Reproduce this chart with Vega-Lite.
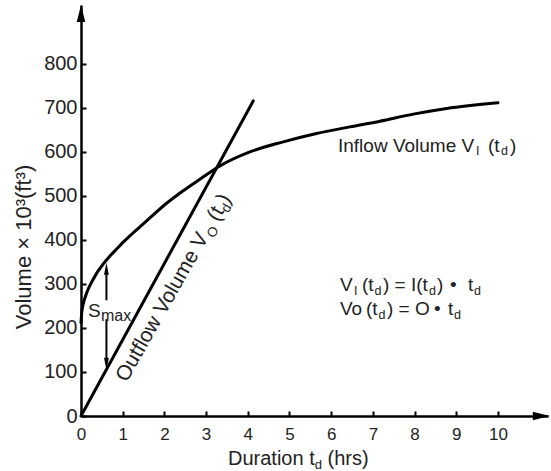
{
  "$schema": "https://vega.github.io/schema/vega-lite/v6.json",
  "width": 467,
  "height": 411,
  "autosize": {"type": "none"},
  "padding": {"left": 81, "top": 5, "right": 3, "bottom": 55},
  "config": {"view": {"stroke": null}},
  "datasets": {
    "inflow": [
      {"t": 0, "v": 212}, {"t": 0.02, "v": 237}, {"t": 0.05, "v": 253}, {"t": 0.1, "v": 270},
      {"t": 0.2, "v": 294}, {"t": 0.3, "v": 312}, {"t": 0.4, "v": 328}, {"t": 0.53, "v": 345},
      {"t": 0.7, "v": 364}, {"t": 0.86, "v": 380}, {"t": 1.0, "v": 394}, {"t": 1.18, "v": 410},
      {"t": 1.5, "v": 437}, {"t": 2.06, "v": 484}, {"t": 2.45, "v": 512},
      {"t": 2.85, "v": 538}, {"t": 3.29, "v": 566}, {"t": 4.05, "v": 600}, {"t": 4.85, "v": 623},
      {"t": 5.65, "v": 642}, {"t": 6.45, "v": 657}, {"t": 7.17, "v": 670}, {"t": 7.97, "v": 686},
      {"t": 8.77, "v": 699}, {"t": 10.0, "v": 712}
    ],
    "outflow": [{"t": 0, "v": 0}, {"t": 4.13, "v": 716}],
    "shafts": [{"t": 0.61, "v": 263, "v2": 334}, {"t": 0.61, "v": 220, "v2": 119}],
    "smaxUp": [{"t": 0.61, "v": 334.4}],
    "smaxDown": [{"t": 0.61, "v": 118.6}],
    "yArrow": [{"t": 0, "v": 914.8}],
    "xArrow": [{"t": 11.04, "v": 0}],
    "main": [
      {"t": 6.163, "v": 600, "label": "Inflow Volume V"},
      {"t": 9.76, "v": 600, "label": "(t"},
      {"t": 10.288, "v": 600, "label": ")"},
      {"t": 6.211, "v": 284.1, "label": "V"},
      {"t": 6.739, "v": 284.1, "label": "(t"},
      {"t": 7.242, "v": 284.1, "label": ") = I(t"},
      {"t": 8.537, "v": 284.1, "label": ")"},
      {"t": 8.849, "v": 284.1, "label": "•"},
      {"t": 9.281, "v": 284.1, "label": "t"},
      {"t": 6.211, "v": 229.5, "label": "Vo"},
      {"t": 6.835, "v": 229.5, "label": "(t"},
      {"t": 7.338, "v": 229.5, "label": ") = O"},
      {"t": 8.465, "v": 229.5, "label": "•"},
      {"t": 8.801, "v": 229.5, "label": "t"},
      {"t": 0.168, "v": 226, "label": "S"}
    ],
    "subs": [
      {"t": 9.472, "v": 593.2, "label": "I"},
      {"t": 10.072, "v": 593.2, "label": "d"},
      {"t": 6.547, "v": 275, "label": "I"},
      {"t": 7.038, "v": 275, "label": "d"},
      {"t": 8.345, "v": 275, "label": "d"},
      {"t": 9.424, "v": 275, "label": "d"},
      {"t": 7.134, "v": 220.5, "label": "d"},
      {"t": 8.945, "v": 220.5, "label": "d"}
    ],
    "smax": [{"t": 0.48, "v": 217, "label": "max"}],
    "rot": [
      {"t": 1.098, "v": 75.2, "label": "Outflow Volume V"},
      {"t": 3.285, "v": 440.0, "label": "(t"},
      {"t": 3.525, "v": 480.2, "label": ")"}
    ],
    "rotSub": [
      {"t": 3.187, "v": 402.7, "label": "O"},
      {"t": 3.53, "v": 460.3, "label": "d"}
    ],
    "xTitle": [
      {"t": 3.525, "v": -111.4, "label": "Duration t"},
      {"t": 5.911, "v": -111.4, "label": "(hrs)"}
    ],
    "xTitleSub": [{"t": 5.604, "v": -120.5, "label": "d"}]
  },
  "encoding": {
    "x": {
      "field": "t", "type": "quantitative",
      "scale": {"domain": [0, 11.2], "nice": false, "zero": false},
      "axis": {
        "values": [0, 1, 2, 3, 4, 5, 6, 7, 8, 9, 10], "title": null, "grid": false,
        "domainColor": "black", "domainWidth": 2.5, "tickColor": "black", "tickWidth": 2, "tickSize": -5,
        "labelFont": "Liberation Sans", "labelFontSize": 17, "labelColor": "#222", "labelPadding": 15,
        "labelFlush": false, "labelOverlap": false
      }
    },
    "y": {
      "field": "v", "type": "quantitative",
      "scale": {"domain": [0, 934], "nice": false, "zero": false},
      "axis": {
        "values": [0, 100, 200, 300, 400, 500, 600, 700, 800], "grid": false,
        "domainColor": "black", "domainWidth": 2.5, "tickColor": "black", "tickWidth": 2, "tickSize": -5,
        "labelFont": "Liberation Sans", "labelFontSize": 20, "labelColor": "#222", "labelPadding": 9,
        "labelFlush": false, "labelOverlap": false,
        "title": "Volume × 10³(ft³)", "titleFont": "Liberation Sans", "titleFontSize": 22,
        "titleFontWeight": "normal", "titleColor": "#222", "titleAngle": 270,
        "titleX": -58, "titleY": 241.5, "titleAlign": "center", "titleBaseline": "middle"
      }
    }
  },
  "layer": [
    {"data": {"name": "inflow"}, "mark": {"type": "line", "color": "black", "strokeWidth": 3, "interpolate": "monotone", "strokeCap": "round"}},
    {"data": {"name": "outflow"}, "mark": {"type": "line", "color": "black", "strokeWidth": 3, "strokeCap": "round"}},
    {"data": {"name": "shafts"}, "mark": {"type": "rule", "color": "black", "strokeWidth": 2}, "encoding": {"y2": {"field": "v2"}}},
    {"data": {"name": "smaxUp"}, "mark": {"type": "point", "shape": "M0,-1L0.4,1L-0.4,1Z", "size": 144, "filled": true, "color": "black", "opacity": 1}},
    {"data": {"name": "smaxDown"}, "mark": {"type": "point", "shape": "M0,1L0.4,-1L-0.4,-1Z", "size": 144, "filled": true, "color": "black", "opacity": 1}},
    {"data": {"name": "yArrow"}, "mark": {"type": "point", "shape": "M0,-1L0.5,1L-0.5,1Z", "size": 289, "filled": true, "color": "black", "opacity": 1}},
    {"data": {"name": "xArrow"}, "mark": {"type": "point", "shape": "M1,0L-1,-0.5L-1,0.5Z", "size": 289, "filled": true, "color": "black", "opacity": 1}},
    {"data": {"name": "main"}, "mark": {"type": "text", "align": "left", "baseline": "alphabetic", "font": "Liberation Sans", "fontSize": 19, "color": "#222"}, "encoding": {"text": {"field": "label"}}},
    {"data": {"name": "subs"}, "mark": {"type": "text", "align": "left", "baseline": "alphabetic", "font": "Liberation Sans", "fontSize": 12.5, "color": "#222"}, "encoding": {"text": {"field": "label"}}},
    {"data": {"name": "smax"}, "mark": {"type": "text", "align": "left", "baseline": "alphabetic", "font": "Liberation Sans", "fontSize": 16, "color": "#222"}, "encoding": {"text": {"field": "label"}}},
    {"data": {"name": "rot"}, "mark": {"type": "text", "align": "left", "baseline": "alphabetic", "angle": 299.5, "font": "Liberation Sans", "fontSize": 21, "color": "#222"}, "encoding": {"text": {"field": "label"}}},
    {"data": {"name": "rotSub"}, "mark": {"type": "text", "align": "left", "baseline": "alphabetic", "angle": 299.5, "font": "Liberation Sans", "fontSize": 13.5, "color": "#222"}, "encoding": {"text": {"field": "label"}}},
    {"data": {"name": "xTitle"}, "mark": {"type": "text", "align": "left", "baseline": "alphabetic", "font": "Liberation Sans", "fontSize": 20, "color": "#222"}, "encoding": {"text": {"field": "label"}}},
    {"data": {"name": "xTitleSub"}, "mark": {"type": "text", "align": "left", "baseline": "alphabetic", "font": "Liberation Sans", "fontSize": 13, "color": "#222"}, "encoding": {"text": {"field": "label"}}}
  ]
}
